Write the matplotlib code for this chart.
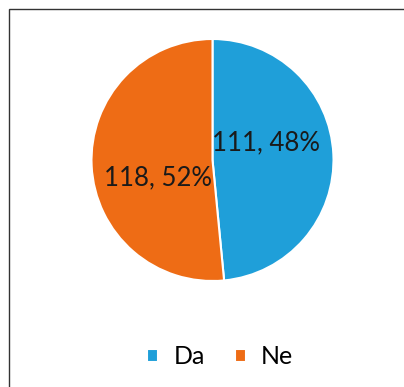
import matplotlib.pyplot as plt
from matplotlib.patches import Rectangle

labels = ['Da', 'Ne']
values = [111, 118]
colors = ['#1f9fd9', '#ee6c15']

fig = plt.figure(figsize=(4.04, 3.87), dpi=100)

# pie axes: center ~ (212, 160) px, radius ~121 px
W, H = 404, 387
cx, cy, r = 212.5, 160, 121
ax = fig.add_axes([(cx - r) / W, (H - cy - r) / H, 2 * r / W, 2 * r / H])

wedges, _ = ax.pie(values, colors=colors, startangle=90, counterclock=False,
                   wedgeprops=dict(edgecolor='white', linewidth=1.5))
ax.set_xlim(-1, 1)
ax.set_ylim(-1, 1)
ax.set_aspect('equal')
ax.axis('off')

total = sum(values)
label_pos = [(0.44, 0.14), (-0.45, -0.15)]
for v, (x, y) in zip(values, label_pos):
    ax.text(x, y, f"{v}, {round(100 * v / total)}%", ha='center', va='center',
            fontsize=18.5, color='#1a1a1a', family='Lato')

fig.legend(wedges, labels, loc='center', bbox_to_anchor=(0.545, 0.078), ncol=2,
           frameon=False, handlelength=0.45, handleheight=0.45, handletextpad=0.6,
           columnspacing=1.2, prop={'family': 'Lato', 'size': 18})

# outer frame (left and top edges visible)
fig.patches.append(Rectangle((9 / W, -0.05), 1.1, (H - 9) / H + 0.05,
                             transform=fig.transFigure, fill=False,
                             edgecolor='#333333', linewidth=1.0))

fig.savefig('out.png', dpi=100)
